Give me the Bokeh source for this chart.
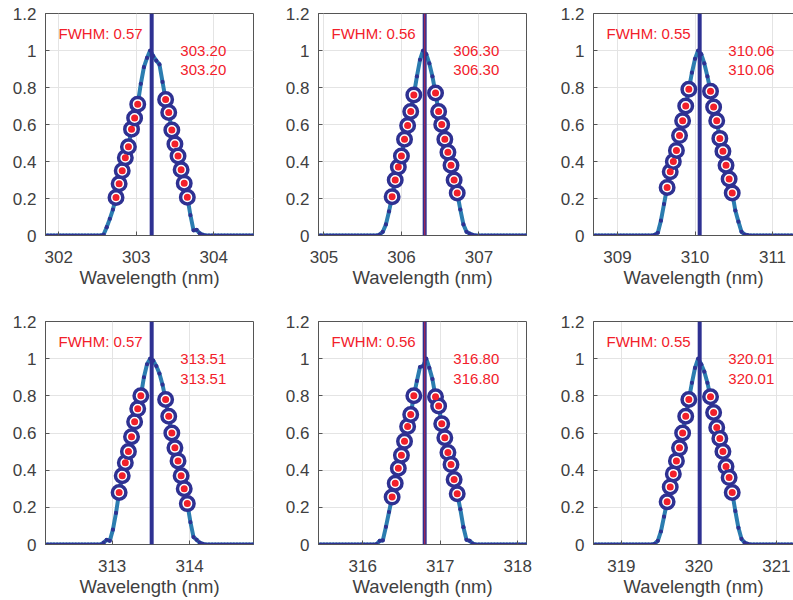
from bokeh.plotting import figure
from bokeh.layouts import column, row
from bokeh.models import Range1d, LinearAxis, FixedTicker, CustomJSTickFormatter, Span
from bokeh.embed import file_html
from bokeh.resources import INLINE
from bokeh.core.properties import value

# ---------------- data ----------------
centers = [303.20, 306.30, 310.06, 313.51, 316.80, 320.01]
fwhm = [0.57, 0.56, 0.55, 0.57, 0.56, 0.55]
x_ticks = [[302, 303, 304], [305, 306, 307], [309, 310, 311],
           [313, 314], [316, 317, 318], [319, 320, 321]]
y_ticks = [0, 0.2, 0.4, 0.6, 0.8, 1.0, 1.2]
# second centre estimate visible on top of the fitted centre line
second_line_visible = [False, True, False, False, True, False]

# sample positions relative to the band centre (nm)
core_offsets = [-0.70, -0.66, -0.62, -0.58, -0.54, -0.50, -0.46, -0.42, -0.38,
                -0.34, -0.30, -0.26, -0.22, -0.18, -0.14, -0.10, -0.06, -0.02,
                0.02, 0.06, 0.10, 0.14, 0.18, 0.22, 0.26, 0.30, 0.34, 0.38,
                0.42, 0.46, 0.50, 0.54, 0.58, 0.62, 0.66, 0.70]
tail_offsets = [-1.42, -1.38, -1.34, -1.30, -1.26, -1.22, -1.18, -1.14, -1.10,
                -1.06, -1.02, -0.98, -0.94, -0.90, -0.86, -0.82, -0.78, -0.74,
                0.74, 0.78, 0.82, 0.86, 0.90, 0.94, 0.98, 1.02, 1.06, 1.10,
                1.14, 1.18, 1.22, 1.26, 1.30, 1.34, 1.38, 1.42]
tail_values = [0.0] * len(tail_offsets)

resp_303 = [0.0, 0.0, 0.005, 0.045, 0.09, 0.14, 0.205, 0.28, 0.35, 0.42, 0.48,
            0.575, 0.635, 0.71, 0.82, 0.91, 0.96, 1.0, 0.97, 0.945, 0.925, 0.83,
            0.735, 0.665, 0.57, 0.495, 0.43, 0.355, 0.283, 0.207, 0.11, 0.028,
            0.03, 0.012, 0.004, 0.0]
resp_306 = [0.0, 0.0, 0.0, 0.005, 0.02, 0.06, 0.13, 0.21, 0.30, 0.37, 0.43,
            0.52, 0.595, 0.67, 0.76, 0.86, 0.95, 1.0, 0.98, 0.93, 0.86, 0.77,
            0.67, 0.60, 0.52, 0.45, 0.38, 0.30, 0.23, 0.14, 0.06, 0.02, 0.01,
            0.003, 0.0, 0.0]
resp_310 = [0.0, 0.0, 0.0, 0.003, 0.015, 0.08, 0.17, 0.26, 0.345, 0.40, 0.46,
            0.54, 0.62, 0.70, 0.79, 0.88, 0.955, 1.0, 0.98, 0.93, 0.86, 0.78,
            0.695, 0.62, 0.525, 0.455, 0.38, 0.305, 0.23, 0.135, 0.075, 0.02,
            0.005, 0.002, 0.0, 0.0]
resp_313 = [0.0, 0.0, 0.01, 0.025, 0.02, 0.08, 0.17, 0.28, 0.37, 0.44, 0.50,
            0.58, 0.66, 0.73, 0.80, 0.90, 0.97, 1.0, 0.99, 0.96, 0.92, 0.86,
            0.78, 0.69, 0.60, 0.52, 0.45, 0.37, 0.30, 0.22, 0.12, 0.04, 0.025,
            0.01, 0.003, 0.0]
resp_316 = [0.0, 0.0, 0.002, 0.02, 0.022, 0.095, 0.175, 0.255, 0.33, 0.41,
            0.48, 0.555, 0.635, 0.70, 0.80, 0.88, 0.955, 0.96, 1.0, 0.95, 0.89,
            0.795, 0.745, 0.65, 0.575, 0.495, 0.43, 0.35, 0.273, 0.19, 0.093,
            0.025, 0.02, 0.005, 0.0, 0.0]
resp_320 = [0.0, 0.0, 0.0, 0.004, 0.02, 0.07, 0.15, 0.23, 0.31, 0.38, 0.45,
            0.52, 0.60, 0.69, 0.78, 0.87, 0.95, 1.0, 0.97, 0.93, 0.87, 0.795,
            0.71, 0.63, 0.57, 0.50, 0.42, 0.36, 0.28, 0.18, 0.09, 0.03, 0.01,
            0.003, 0.0, 0.0]
responses = [resp_303, resp_306, resp_310, resp_313, resp_316, resp_320]
fit_low, fit_high = 0.2, 0.8

# ---------------- style ----------------
TEAL = "#2b7db0"
NAVY = "#2e3192"
RED = "#f2202a"
AX = "#555555"
LBL = "#404040"
FONT = "Liberation Sans"
PX_PER_NM = 77.5

y_fmt = CustomJSTickFormatter(code="return String(Math.round(tick*10)/10);")


def make_panel(i, col, rw):
    c = centers[i]
    if col == 0:
        b_left, frame_w, b_right = 45, 208, 28
    elif col == 1:
        b_left, frame_w, b_right = 37, 208, 28
    else:
        b_left, frame_w, b_right = 39, 200, 0
    if rw == 0:
        b_top, frame_h, b_bot = 13, 222, 73
    else:
        b_top, frame_h, b_bot = 13, 223, 56
    x0 = c - 1.37
    x1 = x0 + frame_w / PX_PER_NM
    p = figure(width=b_left + frame_w + b_right, height=b_top + frame_h + b_bot,
               x_range=Range1d(x0, x1), y_range=Range1d(0, 1.2),
               output_backend="svg", toolbar_location=None,
               min_border_left=b_left, min_border_right=b_right,
               min_border_top=b_top, min_border_bottom=b_bot)
    p.background_fill_color = "white"
    p.border_fill_color = "white"
    bottom = p.below[0]
    left = p.left[0]
    if col < 2:
        p.outline_line_color = AX
        p.outline_line_width = 1
    else:
        p.outline_line_color = None
        top = LinearAxis(major_tick_line_color=None, minor_tick_line_color=None,
                         major_label_text_font_size="0px", major_label_standoff=0,
                         major_tick_in=0, major_tick_out=0,
                         axis_line_color=AX, axis_line_width=1,
                         ticker=FixedTicker(ticks=[]))
        p.add_layout(top, "above")

    bottom.ticker = FixedTicker(ticks=x_ticks[i])
    left.ticker = FixedTicker(ticks=y_ticks)
    left.formatter = y_fmt
    for ax in (bottom, left):
        ax.axis_line_color = AX
        ax.major_tick_line_color = AX
        ax.major_tick_in = 4
        ax.major_tick_out = 0
        ax.minor_tick_line_color = None
        ax.major_label_text_font = FONT
        ax.major_label_text_font_size = "17px"
        ax.major_label_text_color = LBL
    left.major_label_standoff = 9
    bottom.major_label_standoff = 15
    bottom.axis_label = "Wavelength (nm)"
    bottom.axis_label_text_font = FONT
    bottom.axis_label_text_font_size = "18.5px"
    bottom.axis_label_text_font_style = "normal"
    bottom.axis_label_text_color = LBL
    bottom.axis_label_standoff = 1

    p.xgrid.ticker = FixedTicker(ticks=x_ticks[i])
    p.ygrid.ticker = FixedTicker(ticks=y_ticks)
    p.grid.grid_line_color = "#e4e4e4"
    p.grid.grid_line_width = 1

    resp = responses[i]
    offs = tail_offsets[:18] + core_offsets + tail_offsets[18:]
    vals = tail_values[:18] + resp + tail_values[18:]
    xs = [c + o for o in offs]

    p.line(xs, vals, line_color=TEAL, line_width=4)
    p.scatter(xs, vals, size=4.2, fill_color=NAVY, line_color=None)

    fx = [c + o for o, v in zip(core_offsets, resp) if fit_low <= v <= fit_high]
    fy = [v for v in resp if fit_low <= v <= fit_high]
    p.scatter(fx, fy, size=13.5, marker="circle", fill_color="white",
              line_color=NAVY, line_width=3.5)
    p.scatter(fx, fy, size=7, marker="circle", fill_color=RED, line_color=None)

    p.add_layout(Span(location=c, dimension="height", line_color=NAVY,
                      line_width=4))
    if second_line_visible[i]:
        p.add_layout(Span(location=c, dimension="height", line_color=RED,
                          line_width=1.2, line_alpha=0.6))

    p.text(x=[x0 + 13 / PX_PER_NM], y=[1.09], text=[f"FWHM: {fwhm[i]:.2f}"],
           text_font=value(FONT), text_font_size="15px", text_color=RED,
           text_align="left", text_baseline="middle")
    p.text(x=[c + 0.37, c + 0.37], y=[1.0, 0.892],
           text=[f"{c:.2f}", f"{c:.2f}"],
           text_font=value(FONT), text_font_size="15px", text_color=RED,
           text_align="left", text_baseline="middle")
    return p


figs = []
for rw in range(2):
    r = []
    for col in range(3):
        r.append(make_panel(rw * 3 + col, col, rw))
    figs.append(row(*r))
layout = column(*figs)

open("out.html", "w").write(file_html(layout, INLINE))
